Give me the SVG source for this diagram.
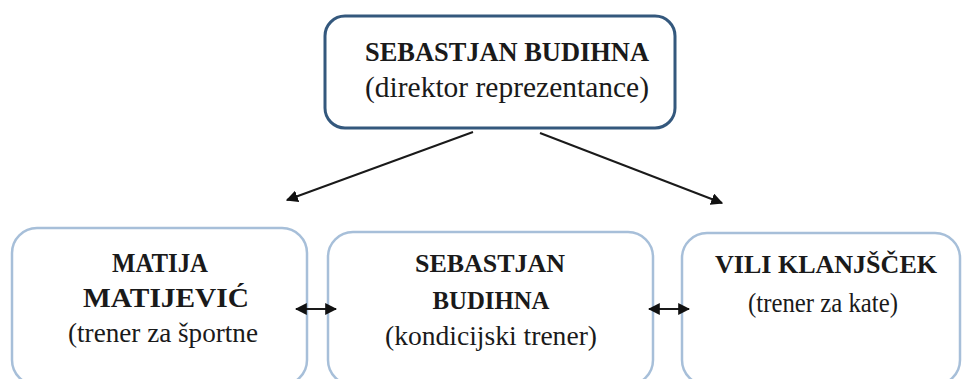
<svg xmlns="http://www.w3.org/2000/svg" width="963" height="379" viewBox="0 0 963 379">
<defs>
<style>
.top{fill:#ffffff;stroke:#34587d;stroke-width:3}
.sub{fill:#ffffff;stroke:#a7bfd9;stroke-width:2.5}
.b{font-family:'Liberation Serif','Times New Roman','DejaVu Serif',serif;font-weight:bold;fill:#1a1a1a;text-anchor:middle}
.r{font-family:'Liberation Serif','Times New Roman','DejaVu Serif',serif;fill:#1a1a1a;text-anchor:middle}
.ln{stroke:#1a1a1a;stroke-width:2;fill:none}
</style>
<marker id="ah" viewBox="0 0 10 10" refX="9" refY="5" markerWidth="6" markerHeight="6" orient="auto-start-reverse" markerUnits="strokeWidth">
<path d="M0,0 L10,5 L0,10 z" fill="#111"/>
</marker>
</defs>
<rect width="963" height="379" fill="#ffffff"/>
<g id="node-director">
<rect class="top" x="325" y="16" width="350" height="112" rx="20"/>
<text class="b" x="507" y="61" font-size="26.5" textLength="284" lengthAdjust="spacingAndGlyphs">SEBASTJAN BUDIHNA</text>
<text class="r" x="507" y="97" font-size="29.5" textLength="284" lengthAdjust="spacingAndGlyphs">(direktor reprezentance)</text>
</g>
<g id="node-matija">
<rect class="sub" x="12" y="228" width="295" height="157" rx="25"/>
<text class="b" x="160" y="272" font-size="28" textLength="96" lengthAdjust="spacingAndGlyphs">MATIJA</text>
<text class="b" x="166" y="307" font-size="28" textLength="166" lengthAdjust="spacingAndGlyphs">MATIJEVIĆ</text>
<text class="r" x="163" y="342" font-size="27.4" textLength="190" lengthAdjust="spacingAndGlyphs">(trener za športne</text>
</g>
<g id="node-sebastjan">
<rect class="sub" x="328" y="232" width="325" height="153" rx="25"/>
<text class="b" x="490" y="272" font-size="26" textLength="150" lengthAdjust="spacingAndGlyphs">SEBASTJAN</text>
<text class="b" x="491" y="309" font-size="26" textLength="117" lengthAdjust="spacingAndGlyphs">BUDIHNA</text>
<text class="r" x="491" y="345" font-size="27.7" textLength="212" lengthAdjust="spacingAndGlyphs">(kondicijski trener)</text>
</g>
<g id="node-vili">
<rect class="sub" x="682" y="233" width="278" height="152" rx="25"/>
<text class="b" x="826" y="273" font-size="26" textLength="222" lengthAdjust="spacingAndGlyphs">VILI KLANJŠČEK</text>
<text class="r" x="823" y="312" font-size="27" textLength="150" lengthAdjust="spacingAndGlyphs">(trener za kate)</text>
</g>
<g id="connectors">
<line class="ln" x1="473" y1="132" x2="287" y2="200" marker-end="url(#ah)"/>
<line class="ln" x1="540" y1="133" x2="722" y2="203" marker-end="url(#ah)"/>
<line class="ln" x1="296" y1="309" x2="336" y2="309" marker-start="url(#ah)" marker-end="url(#ah)"/>
<line class="ln" x1="649" y1="309" x2="689" y2="309" marker-start="url(#ah)" marker-end="url(#ah)"/>
</g>
</svg>
